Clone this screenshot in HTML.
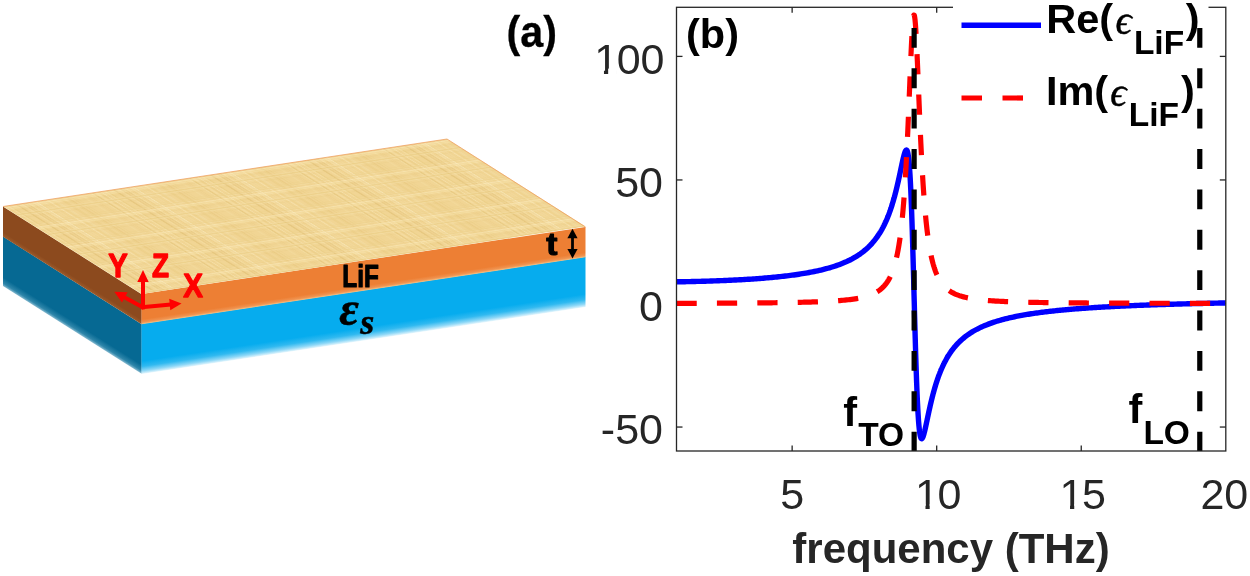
<!DOCTYPE html>
<html lang="en">
<head>
<meta charset="utf-8">
<title>LiF slab and permittivity</title>
<style>
html,body{margin:0;padding:0;background:#fff;}
body{width:1250px;height:576px;overflow:hidden;}
svg{display:block;}
text{font-family:"Liberation Sans",Arial,Helvetica,sans-serif;}
.b{font-weight:bold;}
.ser{font-family:"Liberation Serif","DejaVu Serif",serif;font-style:italic;}
</style>
</head>
<body>
<svg width="1250" height="576" viewBox="0 0 1250 576">
<defs>

<pattern id="papy" width="97" height="31" patternUnits="userSpaceOnUse">
<rect width="97" height="31" fill="#f1d594"/>
<line x1="43.9" y1="0" x2="43.9" y2="31" stroke="#fcefc6" stroke-width="1.5" opacity="0.41"/><line x1="49.3" y1="0" x2="49.3" y2="31" stroke="#e9ca80" stroke-width="1.5" opacity="0.53"/><line x1="46.1" y1="0" x2="46.1" y2="31" stroke="#e9ca80" stroke-width="1.5" opacity="0.28"/><line x1="29.4" y1="0" x2="29.4" y2="31" stroke="#fcefc6" stroke-width="0.7" opacity="0.56"/><line x1="61.5" y1="0" x2="61.5" y2="31" stroke="#ecd089" stroke-width="1.5" opacity="0.59"/><line x1="63.4" y1="0" x2="63.4" y2="31" stroke="#e9ca80" stroke-width="1.5" opacity="0.47"/><line x1="80.7" y1="0" x2="80.7" y2="31" stroke="#e4c47a" stroke-width="0.6" opacity="0.32"/><line x1="23.5" y1="0" x2="23.5" y2="31" stroke="#ecd089" stroke-width="0.6" opacity="0.36"/><line x1="57.3" y1="0" x2="57.3" y2="31" stroke="#e9ca80" stroke-width="0.8" opacity="0.47"/><line x1="48.5" y1="0" x2="48.5" y2="31" stroke="#ecd089" stroke-width="1.6" opacity="0.48"/><line x1="39.5" y1="0" x2="39.5" y2="31" stroke="#fcefc6" stroke-width="1.4" opacity="0.28"/><line x1="24.6" y1="0" x2="24.6" y2="31" stroke="#fbeab8" stroke-width="1.8" opacity="0.35"/><line x1="6.8" y1="0" x2="6.8" y2="31" stroke="#ecd089" stroke-width="1.8" opacity="0.29"/><line x1="28.2" y1="0" x2="28.2" y2="31" stroke="#e4c47a" stroke-width="0.6" opacity="0.55"/><line x1="0.1" y1="0" x2="0.1" y2="31" stroke="#e4c47a" stroke-width="0.9" opacity="0.41"/><line x1="95.1" y1="0" x2="95.1" y2="31" stroke="#e4c47a" stroke-width="1.2" opacity="0.45"/><line x1="19.3" y1="0" x2="19.3" y2="31" stroke="#dfbd72" stroke-width="1.6" opacity="0.28"/><line x1="32.3" y1="0" x2="32.3" y2="31" stroke="#fcefc6" stroke-width="2.1" opacity="0.57"/><line x1="13.1" y1="0" x2="13.1" y2="31" stroke="#e4c47a" stroke-width="1.7" opacity="0.27"/><line x1="77.3" y1="0" x2="77.3" y2="31" stroke="#fbeab8" stroke-width="0.8" opacity="0.32"/><line x1="49.4" y1="0" x2="49.4" y2="31" stroke="#fcefc6" stroke-width="2.2" opacity="0.30"/><line x1="62.4" y1="0" x2="62.4" y2="31" stroke="#ecd089" stroke-width="0.7" opacity="0.60"/><line x1="0.0" y1="0" x2="0.0" y2="31" stroke="#fcefc6" stroke-width="2.0" opacity="0.46"/><line x1="96.8" y1="0" x2="96.8" y2="31" stroke="#e9ca80" stroke-width="0.5" opacity="0.39"/><line x1="82.9" y1="0" x2="82.9" y2="31" stroke="#e4c47a" stroke-width="1.6" opacity="0.26"/><line x1="14.2" y1="0" x2="14.2" y2="31" stroke="#e4c47a" stroke-width="1.3" opacity="0.52"/><line x1="31.9" y1="0" x2="31.9" y2="31" stroke="#e4c47a" stroke-width="1.0" opacity="0.28"/><line x1="20.2" y1="0" x2="20.2" y2="31" stroke="#e4c47a" stroke-width="1.6" opacity="0.46"/><line x1="36.1" y1="0" x2="36.1" y2="31" stroke="#fbeab8" stroke-width="1.3" opacity="0.42"/><line x1="55.7" y1="0" x2="55.7" y2="31" stroke="#e9ca80" stroke-width="2.0" opacity="0.47"/><line x1="30.1" y1="0" x2="30.1" y2="31" stroke="#fbeab8" stroke-width="0.9" opacity="0.34"/><line x1="18.4" y1="0" x2="18.4" y2="31" stroke="#fbeab8" stroke-width="1.8" opacity="0.32"/><line x1="92.2" y1="0" x2="92.2" y2="31" stroke="#fbeab8" stroke-width="2.0" opacity="0.28"/><line x1="4.6" y1="0" x2="4.6" y2="31" stroke="#fbeab8" stroke-width="0.7" opacity="0.59"/><line x1="23.1" y1="0" x2="23.1" y2="31" stroke="#dfbd72" stroke-width="1.7" opacity="0.40"/><line x1="87.8" y1="0" x2="87.8" y2="31" stroke="#fbeab8" stroke-width="1.3" opacity="0.31"/><line x1="69.9" y1="0" x2="69.9" y2="31" stroke="#e9ca80" stroke-width="0.6" opacity="0.42"/><line x1="63.4" y1="0" x2="63.4" y2="31" stroke="#e4c47a" stroke-width="1.5" opacity="0.35"/><line x1="89.0" y1="0" x2="89.0" y2="31" stroke="#e4c47a" stroke-width="0.8" opacity="0.27"/><line x1="39.9" y1="0" x2="39.9" y2="31" stroke="#e4c47a" stroke-width="0.9" opacity="0.31"/><line x1="35.8" y1="0" x2="35.8" y2="31" stroke="#e9ca80" stroke-width="1.5" opacity="0.28"/><line x1="13.4" y1="0" x2="13.4" y2="31" stroke="#dfbd72" stroke-width="1.3" opacity="0.48"/><line x1="67.0" y1="0" x2="67.0" y2="31" stroke="#e9ca80" stroke-width="1.5" opacity="0.46"/><line x1="89.6" y1="0" x2="89.6" y2="31" stroke="#dfbd72" stroke-width="1.3" opacity="0.50"/><line x1="93.4" y1="0" x2="93.4" y2="31" stroke="#f9e4ab" stroke-width="0.5" opacity="0.28"/><line x1="6.5" y1="0" x2="6.5" y2="31" stroke="#e9ca80" stroke-width="1.0" opacity="0.60"/><line x1="0" y1="2.3" x2="97" y2="2.3" stroke="#f9e4ab" stroke-width="1.0" opacity="0.21"/><line x1="0" y1="29.0" x2="97" y2="29.0" stroke="#e9ca80" stroke-width="1.2" opacity="0.44"/><line x1="0" y1="28.4" x2="97" y2="28.4" stroke="#f9e4ab" stroke-width="0.8" opacity="0.34"/><line x1="0" y1="2.4" x2="97" y2="2.4" stroke="#fcefc6" stroke-width="1.3" opacity="0.21"/><line x1="0" y1="15.5" x2="97" y2="15.5" stroke="#f9e4ab" stroke-width="0.4" opacity="0.31"/><line x1="0" y1="18.1" x2="97" y2="18.1" stroke="#e4c47a" stroke-width="1.1" opacity="0.23"/><line x1="0" y1="3.6" x2="97" y2="3.6" stroke="#ecd089" stroke-width="0.7" opacity="0.42"/><line x1="0" y1="12.0" x2="97" y2="12.0" stroke="#fbeab8" stroke-width="1.2" opacity="0.34"/><line x1="0" y1="14.3" x2="97" y2="14.3" stroke="#fbeab8" stroke-width="1.0" opacity="0.43"/><line x1="0" y1="0.9" x2="97" y2="0.9" stroke="#ecd089" stroke-width="1.1" opacity="0.21"/><line x1="0" y1="29.7" x2="97" y2="29.7" stroke="#fcefc6" stroke-width="0.5" opacity="0.38"/><line x1="0" y1="28.5" x2="97" y2="28.5" stroke="#e4c47a" stroke-width="0.7" opacity="0.31"/><line x1="0" y1="4.4" x2="97" y2="4.4" stroke="#fbeab8" stroke-width="1.1" opacity="0.25"/><line x1="0" y1="28.1" x2="97" y2="28.1" stroke="#ecd089" stroke-width="1.1" opacity="0.35"/><line x1="0" y1="7.5" x2="97" y2="7.5" stroke="#dfbd72" stroke-width="0.8" opacity="0.26"/><line x1="0" y1="13.4" x2="97" y2="13.4" stroke="#e9ca80" stroke-width="1.3" opacity="0.46"/><line x1="0" y1="11.9" x2="97" y2="11.9" stroke="#dfbd72" stroke-width="1.0" opacity="0.26"/><line x1="0" y1="4.2" x2="97" y2="4.2" stroke="#fcefc6" stroke-width="0.8" opacity="0.21"/><line x1="0" y1="2.0" x2="97" y2="2.0" stroke="#fcefc6" stroke-width="1.5" opacity="0.25"/><line x1="0" y1="14.0" x2="97" y2="14.0" stroke="#e9ca80" stroke-width="0.7" opacity="0.45"/><line x1="0" y1="11.9" x2="97" y2="11.9" stroke="#f9e4ab" stroke-width="1.0" opacity="0.29"/><line x1="0" y1="26.0" x2="97" y2="26.0" stroke="#ecd089" stroke-width="1.5" opacity="0.30"/>
</pattern>
<linearGradient id="gOrF" x1="0" y1="0" x2="0" y2="1">
<stop offset="0" stop-color="#ed7f34"/><stop offset="0.84" stop-color="#ed7f34"/><stop offset="0.94" stop-color="#f09350"/><stop offset="1" stop-color="#f5c081"/>
</linearGradient>
<linearGradient id="gOrL" x1="0" y1="0" x2="0" y2="1">
<stop offset="0" stop-color="#8c4a1e"/><stop offset="0.85" stop-color="#8c4a1e"/><stop offset="1" stop-color="#9c5a2a"/>
</linearGradient>
<linearGradient id="gBlF" x1="0" y1="0" x2="0" y2="1">
<stop offset="0" stop-color="#06acee"/><stop offset="0.74" stop-color="#06acee"/><stop offset="0.85" stop-color="#30b9f0"/><stop offset="0.94" stop-color="#8fd8f7"/><stop offset="1" stop-color="#e8f7fd"/>
</linearGradient>
<linearGradient id="gBlL" x1="0" y1="0" x2="0" y2="1">
<stop offset="0" stop-color="#066993"/><stop offset="0.82" stop-color="#066993"/><stop offset="0.94" stop-color="#2f86aa"/><stop offset="1" stop-color="#86bad0"/>
</linearGradient>

<clipPath id="axclip"><rect x="676.5" y="7.3" width="549.3" height="443.7"/></clipPath>
</defs>
<rect width="1250" height="576" fill="#fff"/>

<!-- ================= panel (a): slab ================= -->
<g id="slab">

<!-- substrate (blue) -->
<g transform="matrix(1,0.6318,0,1,0,0)"><rect x="3" y="234.6" width="138.7" height="49.6" fill="url(#gBlL)"/></g>
<g transform="matrix(1,-0.1509,0,1,0,0)"><rect x="141.5" y="345.2" width="444" height="50.2" fill="url(#gBlF)"/></g>
<!-- LiF film (orange) -->
<g transform="matrix(1,0.6318,0,1,0,0)"><rect x="3" y="204.6" width="138.7" height="30.2" fill="url(#gOrL)"/></g>
<g transform="matrix(1,-0.1509,0,1,0,0)"><rect x="141.5" y="315.3" width="444" height="30.3" fill="url(#gOrF)"/></g>
<!-- top face with papyrus texture -->
<g transform="matrix(1,-0.152,1,0.6318,3,206.5)"><rect x="0" y="0" width="444" height="138.5" fill="url(#papy)"/></g>
<polyline points="3,206.5 447,139 585.5,227" fill="none" stroke="#ee9a5a" stroke-width="0.9" opacity="0.8"/>
<!-- coordinate axes -->
<g stroke="#ff0000" stroke-width="4" fill="#ff0000" stroke-linecap="butt">
<line x1="143" y1="309.3" x2="143" y2="280"/>
<polygon points="143,270 148.7,282 137.3,282" stroke="none"/>
<line x1="141.5" y1="307.3" x2="171" y2="304.5"/>
<polygon points="181.5,303.5 170.3,310.2 169.2,298.7" stroke="none"/>
<line x1="144" y1="308" x2="124" y2="297"/>
<polygon points="114.3,291.7 127.6,292.3 122,302.4" stroke="none"/>
</g>
<g class="b" fill="#ff0000" stroke="#ff0000" stroke-width="1.3" stroke-linejoin="round" font-size="34">
<text x="108.3" y="276.9" textLength="19.5" lengthAdjust="spacingAndGlyphs">Y</text>
<text x="152" y="276.9" textLength="17" lengthAdjust="spacingAndGlyphs">Z</text>
<text x="183.3" y="296.7" textLength="19.7" lengthAdjust="spacingAndGlyphs">X</text>
</g>
<g class="b" fill="#000" stroke="#000" stroke-width="1.1" stroke-linejoin="round">
<text x="342.3" y="286.5" font-size="31.5" textLength="36.6" lengthAdjust="spacingAndGlyphs">LiF</text>
<text x="546.3" y="254.8" font-size="32" textLength="11.2" lengthAdjust="spacingAndGlyphs">t</text>
<text x="506.6" y="46.6" font-size="44" textLength="50.4" lengthAdjust="spacingAndGlyphs" stroke-width="0.3">(a)</text>
<text x="339.2" y="325.4" font-size="47.5" style="font-family:'Liberation Serif','DejaVu Serif',serif;font-style:italic" stroke-width="0.5" textLength="19.6" lengthAdjust="spacingAndGlyphs">ε</text>
<text x="360.2" y="334.3" font-size="36" style="font-family:'Liberation Serif','DejaVu Serif',serif;font-style:italic" stroke-width="0.5">s</text>
</g>
<!-- thickness arrow -->
<g fill="#000" stroke="#000">
<line x1="572.5" y1="234" x2="572.5" y2="253" stroke-width="2.8"/>
<polygon points="572.5,228.8 577.6,238.3 567.4,238.3" stroke="none"/>
<polygon points="572.5,258.4 577.6,248.9 567.4,248.9" stroke="none"/>
</g>

</g>

<!-- ================= panel (b): chart ================= -->
<g id="chart">
<g stroke="#262626" stroke-width="1.3" fill="none">
<line x1="792.14" y1="451.0" x2="792.14" y2="445.5"/><line x1="792.14" y1="7.3" x2="792.14" y2="12.8"/><line x1="936.69" y1="451.0" x2="936.69" y2="445.5"/><line x1="936.69" y1="7.3" x2="936.69" y2="12.8"/><line x1="1081.25" y1="451.0" x2="1081.25" y2="445.5"/><line x1="1081.25" y1="7.3" x2="1081.25" y2="12.8"/><line x1="676.5" y1="427.05" x2="682.5" y2="427.05"/><line x1="1225.8" y1="427.05" x2="1219.8" y2="427.05"/><line x1="676.5" y1="303.50" x2="682.5" y2="303.50"/><line x1="1225.8" y1="303.50" x2="1219.8" y2="303.50"/><line x1="676.5" y1="179.95" x2="682.5" y2="179.95"/><line x1="1225.8" y1="179.95" x2="1219.8" y2="179.95"/><line x1="676.5" y1="56.40" x2="682.5" y2="56.40"/><line x1="1225.8" y1="56.40" x2="1219.8" y2="56.40"/>
</g>
<g clip-path="url(#axclip)" fill="none">
<path d="M676.50,281.81 L678.20,281.79 L679.90,281.76 L681.60,281.73 L683.30,281.70 L685.00,281.68 L686.70,281.64 L688.40,281.61 L690.10,281.58 L691.81,281.54 L693.51,281.50 L695.21,281.46 L696.91,281.42 L698.61,281.38 L700.31,281.34 L702.01,281.29 L703.71,281.24 L705.41,281.19 L707.11,281.14 L708.81,281.09 L710.51,281.04 L712.21,280.98 L713.91,280.92 L715.61,280.86 L717.31,280.80 L719.02,280.73 L720.72,280.67 L722.42,280.60 L724.12,280.53 L725.82,280.46 L727.52,280.38 L729.22,280.31 L730.92,280.23 L732.62,280.15 L734.32,280.06 L736.02,279.97 L737.72,279.89 L739.42,279.79 L741.12,279.70 L742.82,279.60 L744.52,279.50 L746.23,279.40 L747.93,279.30 L749.63,279.19 L751.33,279.08 L753.03,278.96 L754.73,278.84 L756.43,278.72 L758.13,278.60 L759.83,278.47 L761.53,278.34 L763.23,278.20 L764.93,278.06 L766.63,277.92 L768.33,277.77 L770.03,277.62 L771.73,277.46 L773.44,277.30 L775.14,277.14 L776.84,276.97 L778.54,276.79 L780.24,276.61 L781.94,276.42 L783.64,276.23 L785.34,276.03 L787.04,275.83 L788.74,275.62 L790.44,275.41 L792.14,275.18 L793.84,274.95 L795.54,274.71 L797.24,274.47 L798.94,274.22 L800.65,273.95 L802.35,273.68 L804.05,273.41 L805.75,273.12 L807.45,272.82 L809.15,272.51 L810.85,272.19 L812.55,271.86 L814.25,271.52 L815.95,271.16 L817.65,270.79 L819.35,270.41 L821.05,270.01 L822.75,269.60 L824.45,269.17 L826.15,268.73 L827.86,268.26 L829.56,267.78 L831.26,267.28 L832.96,266.75 L834.66,266.21 L836.36,265.64 L838.06,265.04 L839.76,264.41 L841.46,263.76 L843.16,263.08 L844.86,262.36 L846.56,261.60 L848.26,260.81 L849.96,259.98 L851.66,259.10 L853.36,258.17 L855.07,257.19 L856.77,256.16 L858.47,255.06 L860.17,253.90 L861.87,252.66 L863.57,251.35 L865.27,249.95 L866.97,248.46 L868.67,246.86 L870.37,245.15 L872.07,243.31 L873.77,241.32 L875.47,239.19 L877.17,236.87 L878.87,234.36 L879.02,234.14 L879.16,233.92 L879.31,233.69 L879.45,233.46 L879.60,233.23 L879.74,233.00 L879.89,232.77 L880.03,232.53 L880.18,232.29 L880.32,232.06 L880.47,231.82 L880.61,231.57 L880.76,231.33 L880.90,231.08 L881.05,230.84 L881.19,230.59 L881.34,230.34 L881.48,230.08 L881.63,229.83 L881.77,229.57 L881.92,229.31 L882.06,229.05 L882.21,228.79 L882.35,228.53 L882.49,228.26 L882.64,227.99 L882.78,227.72 L882.93,227.45 L883.07,227.17 L883.22,226.89 L883.36,226.61 L883.51,226.33 L883.65,226.05 L883.80,225.76 L883.94,225.47 L884.09,225.18 L884.23,224.89 L884.38,224.60 L884.52,224.30 L884.67,224.00 L884.81,223.70 L884.96,223.39 L885.10,223.09 L885.25,222.78 L885.39,222.46 L885.54,222.15 L885.68,221.83 L885.83,221.51 L885.97,221.19 L886.12,220.87 L886.26,220.54 L886.41,220.21 L886.55,219.87 L886.70,219.54 L886.84,219.20 L886.98,218.86 L887.13,218.52 L887.27,218.17 L887.42,217.82 L887.56,217.47 L887.71,217.11 L887.85,216.75 L888.00,216.39 L888.14,216.03 L888.29,215.66 L888.43,215.29 L888.58,214.91 L888.72,214.54 L888.87,214.16 L889.01,213.77 L889.16,213.38 L889.30,212.99 L889.45,212.60 L889.59,212.20 L889.74,211.80 L889.88,211.40 L890.03,210.99 L890.17,210.58 L890.32,210.17 L890.46,209.75 L890.61,209.33 L890.75,208.91 L890.90,208.48 L891.04,208.04 L891.19,207.61 L891.33,207.17 L891.47,206.73 L891.62,206.28 L891.76,205.83 L891.91,205.37 L892.05,204.91 L892.20,204.45 L892.34,203.98 L892.49,203.51 L892.63,203.04 L892.78,202.56 L892.92,202.08 L893.07,201.59 L893.21,201.10 L893.36,200.60 L893.50,200.10 L893.65,199.60 L893.79,199.09 L893.94,198.58 L894.08,198.06 L894.23,197.54 L894.37,197.01 L894.52,196.48 L894.66,195.95 L894.81,195.41 L894.95,194.87 L895.10,194.32 L895.24,193.77 L895.39,193.21 L895.53,192.65 L895.68,192.08 L895.82,191.51 L895.97,190.94 L896.11,190.36 L896.25,189.78 L896.40,189.19 L896.54,188.59 L896.69,188.00 L896.83,187.40 L896.98,186.79 L897.12,186.18 L897.27,185.57 L897.41,184.95 L897.56,184.33 L897.70,183.70 L897.85,183.07 L897.99,182.43 L898.14,181.80 L898.28,181.15 L898.43,180.51 L898.57,179.86 L898.72,179.20 L898.86,178.55 L899.01,177.89 L899.15,177.22 L899.30,176.56 L899.44,175.89 L899.59,175.22 L899.73,174.54 L899.88,173.86 L900.02,173.19 L900.17,172.51 L900.31,171.82 L900.46,171.14 L900.60,170.46 L900.74,169.77 L900.89,169.09 L901.03,168.40 L901.18,167.72 L901.32,167.04 L901.47,166.36 L901.61,165.68 L901.76,165.00 L901.90,164.32 L902.05,163.65 L902.19,162.99 L902.34,162.32 L902.48,161.67 L902.63,161.02 L902.77,160.37 L902.92,159.74 L903.06,159.11 L903.21,158.49 L903.35,157.89 L903.50,157.29 L903.64,156.71 L903.79,156.14 L903.93,155.59 L904.08,155.05 L904.22,154.53 L904.37,154.03 L904.51,153.55 L904.66,153.09 L904.80,152.66 L904.95,152.25 L905.09,151.87 L905.23,151.52 L905.38,151.20 L905.52,150.91 L905.67,150.66 L905.81,150.45 L905.96,150.28 L906.10,150.15 L906.25,150.07 L906.39,150.04 L906.54,150.05 L906.68,150.13 L906.83,150.26 L906.97,150.45 L907.12,150.71 L907.26,151.03 L907.41,151.43 L907.55,151.90 L907.70,152.45 L907.84,153.08 L907.99,153.80 L908.13,154.61 L908.28,155.52 L908.42,156.52 L908.57,157.63 L908.71,158.84 L908.86,160.16 L909.00,161.60 L909.15,163.16 L909.29,164.84 L909.44,166.65 L909.58,168.59 L909.73,170.66 L909.87,172.87 L910.01,175.22 L910.16,177.72 L910.30,180.36 L910.45,183.14 L910.59,186.08 L910.74,189.17 L910.88,192.41 L911.03,195.80 L911.17,199.35 L911.32,203.04 L911.46,206.88 L911.61,210.87 L911.75,215.01 L911.90,219.28 L912.04,223.70 L912.19,228.24 L912.33,232.91 L912.48,237.69 L912.62,242.59 L912.77,247.59 L912.91,252.69 L913.06,257.87 L913.20,263.13 L913.35,268.46 L913.49,273.84 L913.64,279.26 L913.78,284.72 L913.93,290.20 L914.07,295.68 L914.22,301.17 L914.36,306.64 L914.50,312.08 L914.65,317.48 L914.79,322.84 L914.94,328.13 L915.08,333.36 L915.23,338.50 L915.37,343.55 L915.52,348.50 L915.66,353.35 L915.81,358.08 L915.95,362.69 L916.10,367.17 L916.24,371.52 L916.39,375.72 L916.53,379.79 L916.68,383.71 L916.82,387.48 L916.97,391.11 L917.11,394.58 L917.26,397.90 L917.40,401.06 L917.55,404.08 L917.69,406.95 L917.84,409.66 L917.98,412.23 L918.13,414.66 L918.27,416.94 L918.42,419.08 L918.56,421.09 L918.71,422.97 L918.85,424.71 L919.00,426.34 L919.14,427.84 L919.28,429.22 L919.43,430.49 L919.57,431.65 L919.72,432.71 L919.86,433.66 L920.01,434.52 L920.15,435.29 L920.30,435.96 L920.44,436.56 L920.59,437.07 L920.73,437.50 L920.88,437.86 L921.02,438.16 L921.17,438.38 L921.31,438.54 L921.46,438.65 L921.60,438.69 L921.75,438.69 L921.89,438.63 L922.04,438.53 L922.18,438.38 L922.33,438.19 L922.47,437.96 L922.62,437.69 L922.76,437.39 L922.91,437.05 L923.05,436.69 L923.20,436.29 L923.34,435.87 L923.49,435.43 L923.63,434.96 L923.77,434.47 L923.92,433.96 L924.06,433.43 L924.21,432.88 L924.35,432.32 L924.50,431.75 L924.64,431.16 L924.79,430.56 L924.93,429.94 L925.08,429.32 L925.22,428.69 L925.37,428.05 L925.51,427.40 L925.66,426.75 L925.80,426.09 L925.95,425.42 L926.09,424.76 L926.24,424.08 L926.38,423.41 L926.53,422.73 L926.67,422.05 L926.82,421.36 L926.96,420.68 L927.11,420.00 L927.25,419.31 L927.40,418.63 L927.54,417.94 L927.69,417.26 L927.83,416.58 L927.98,415.90 L928.12,415.22 L928.26,414.54 L928.41,413.86 L928.55,413.19 L928.70,412.52 L928.84,411.85 L928.99,411.19 L929.13,410.53 L929.28,409.87 L929.42,409.21 L929.57,408.56 L929.71,407.91 L929.86,407.27 L930.00,406.63 L930.15,405.99 L930.29,405.36 L930.44,404.73 L930.58,404.10 L930.73,403.48 L930.87,402.86 L931.02,402.25 L931.16,401.64 L931.31,401.04 L931.45,400.44 L931.60,399.85 L931.74,399.26 L931.89,398.67 L932.03,398.09 L932.18,397.51 L932.32,396.94 L932.47,396.37 L932.61,395.81 L932.76,395.25 L932.90,394.69 L933.04,394.14 L933.19,393.60 L933.33,393.06 L933.48,392.52 L933.62,391.99 L933.77,391.46 L933.91,390.93 L934.06,390.41 L934.20,389.90 L934.35,389.39 L934.49,388.88 L934.64,388.38 L934.78,387.88 L934.93,387.39 L935.07,386.90 L935.22,386.41 L935.36,385.93 L935.51,385.45 L935.65,384.98 L935.80,384.51 L935.94,384.05 L936.09,383.59 L936.23,383.13 L936.38,382.68 L936.52,382.23 L936.67,381.78 L936.81,381.34 L936.96,380.90 L937.10,380.47 L937.25,380.04 L937.39,379.61 L937.53,379.19 L937.68,378.77 L937.82,378.35 L937.97,377.94 L938.11,377.53 L938.26,377.12 L938.40,376.72 L938.55,376.32 L938.69,375.93 L938.84,375.53 L938.98,375.15 L939.13,374.76 L939.27,374.38 L939.42,374.00 L939.56,373.62 L939.71,373.25 L939.85,372.88 L940.00,372.51 L940.14,372.15 L940.29,371.79 L940.43,371.43 L940.58,371.08 L940.72,370.73 L940.87,370.38 L941.01,370.03 L941.16,369.69 L941.30,369.35 L941.45,369.01 L941.59,368.68 L941.74,368.35 L941.88,368.02 L942.02,367.69 L942.17,367.37 L942.31,367.05 L942.46,366.73 L942.60,366.41 L942.75,366.10 L942.89,365.79 L943.04,365.48 L943.18,365.17 L943.33,364.87 L943.47,364.57 L943.62,364.27 L943.76,363.97 L943.91,363.68 L944.05,363.38 L944.20,363.09 L944.34,362.81 L944.49,362.52 L944.63,362.24 L944.78,361.96 L944.92,361.68 L945.07,361.40 L945.21,361.13 L945.36,360.86 L945.50,360.59 L945.65,360.32 L945.79,360.05 L945.94,359.79 L946.08,359.53 L946.23,359.27 L946.37,359.01 L946.52,358.75 L946.66,358.50 L946.80,358.25 L946.95,357.99 L947.09,357.75 L947.24,357.50 L947.38,357.25 L947.53,357.01 L947.67,356.77 L947.82,356.53 L947.96,356.29 L948.11,356.06 L948.25,355.82 L948.40,355.59 L948.54,355.36 L948.69,355.13 L948.83,354.90 L948.98,354.67 L949.12,354.45 L949.27,354.23 L949.41,354.01 L949.56,353.79 L949.70,353.57 L949.85,353.35 L949.99,353.14 L950.14,352.92 L950.28,352.71 L950.43,352.50 L950.57,352.29 L950.72,352.08 L950.86,351.88 L951.01,351.67 L951.15,351.47 L952.53,349.59 L953.91,347.84 L955.29,346.19 L956.67,344.63 L958.05,343.17 L959.43,341.79 L960.81,340.48 L962.19,339.24 L963.57,338.07 L964.95,336.95 L966.33,335.89 L967.71,334.89 L969.09,333.93 L970.47,333.01 L971.85,332.14 L973.23,331.31 L974.61,330.51 L975.99,329.75 L977.37,329.02 L978.75,328.31 L980.13,327.64 L981.51,327.00 L982.89,326.38 L984.27,325.78 L985.65,325.20 L987.03,324.65 L988.41,324.12 L989.79,323.60 L991.17,323.11 L992.55,322.63 L993.93,322.17 L995.31,321.72 L996.69,321.29 L998.08,320.87 L999.46,320.47 L1000.84,320.08 L1002.22,319.70 L1003.60,319.33 L1004.98,318.97 L1006.36,318.62 L1007.74,318.29 L1009.12,317.96 L1010.50,317.65 L1011.88,317.34 L1013.26,317.04 L1014.64,316.75 L1016.02,316.46 L1017.40,316.19 L1018.78,315.92 L1020.16,315.66 L1021.54,315.40 L1022.92,315.16 L1024.30,314.91 L1025.68,314.68 L1027.06,314.45 L1028.44,314.22 L1029.82,314.01 L1031.20,313.79 L1032.58,313.58 L1033.96,313.38 L1035.34,313.18 L1036.72,312.99 L1038.10,312.80 L1039.48,312.61 L1040.86,312.43 L1042.24,312.25 L1043.62,312.08 L1045.00,311.91 L1046.38,311.74 L1047.76,311.58 L1049.14,311.42 L1050.52,311.26 L1051.90,311.11 L1053.28,310.96 L1054.66,310.81 L1056.04,310.67 L1057.42,310.53 L1058.80,310.39 L1060.18,310.25 L1061.56,310.12 L1062.94,309.99 L1064.32,309.86 L1065.70,309.74 L1067.08,309.61 L1068.46,309.49 L1069.84,309.37 L1071.22,309.26 L1072.60,309.14 L1073.98,309.03 L1075.36,308.92 L1076.74,308.81 L1078.12,308.70 L1079.50,308.60 L1080.88,308.50 L1082.26,308.40 L1083.64,308.30 L1085.02,308.20 L1086.40,308.10 L1087.78,308.01 L1089.17,307.91 L1090.55,307.82 L1091.93,307.73 L1093.31,307.64 L1094.69,307.56 L1096.07,307.47 L1097.45,307.39 L1098.83,307.30 L1100.21,307.22 L1101.59,307.14 L1102.97,307.06 L1104.35,306.98 L1105.73,306.91 L1107.11,306.83 L1108.49,306.76 L1109.87,306.68 L1111.25,306.61 L1112.63,306.54 L1114.01,306.47 L1115.39,306.40 L1116.77,306.33 L1118.15,306.26 L1119.53,306.20 L1120.91,306.13 L1122.29,306.07 L1123.67,306.00 L1125.05,305.94 L1126.43,305.88 L1127.81,305.82 L1129.19,305.76 L1130.57,305.70 L1131.95,305.64 L1133.33,305.58 L1134.71,305.52 L1136.09,305.47 L1137.47,305.41 L1138.85,305.36 L1140.23,305.30 L1141.61,305.25 L1142.99,305.20 L1144.37,305.14 L1145.75,305.09 L1147.13,305.04 L1148.51,304.99 L1149.89,304.94 L1151.27,304.89 L1152.65,304.84 L1154.03,304.80 L1155.41,304.75 L1156.79,304.70 L1158.17,304.66 L1159.55,304.61 L1160.93,304.57 L1162.31,304.52 L1163.69,304.48 L1165.07,304.44 L1166.45,304.39 L1167.83,304.35 L1169.21,304.31 L1170.59,304.27 L1171.97,304.23 L1173.35,304.19 L1174.73,304.15 L1176.11,304.11 L1177.49,304.07 L1178.87,304.03 L1180.26,303.99 L1181.64,303.95 L1183.02,303.92 L1184.40,303.88 L1185.78,303.84 L1187.16,303.81 L1188.54,303.77 L1189.92,303.74 L1191.30,303.70 L1192.68,303.67 L1194.06,303.63 L1195.44,303.60 L1196.82,303.56 L1198.20,303.53 L1199.58,303.50 L1200.96,303.47 L1202.34,303.43 L1203.72,303.40 L1205.10,303.37 L1206.48,303.34 L1207.86,303.31 L1209.24,303.28 L1210.62,303.25 L1212.00,303.22 L1213.38,303.19 L1214.76,303.16 L1216.14,303.13 L1217.52,303.10 L1218.90,303.07 L1220.28,303.05 L1221.66,303.02 L1223.04,302.99 L1224.42,302.96 L1225.80,302.94" stroke="#0000ff" stroke-width="5.4" stroke-linejoin="round"/>
<path d="M676.50,303.40 L678.20,303.39 L679.90,303.38 L681.60,303.38 L683.30,303.37 L685.00,303.36 L686.70,303.36 L688.40,303.35 L690.10,303.34 L691.81,303.33 L693.51,303.33 L695.21,303.32 L696.91,303.31 L698.61,303.31 L700.31,303.30 L702.01,303.29 L703.71,303.28 L705.41,303.27 L707.11,303.27 L708.81,303.26 L710.51,303.25 L712.21,303.24 L713.91,303.23 L715.61,303.22 L717.31,303.22 L719.02,303.21 L720.72,303.20 L722.42,303.19 L724.12,303.18 L725.82,303.17 L727.52,303.16 L729.22,303.15 L730.92,303.14 L732.62,303.13 L734.32,303.12 L736.02,303.11 L737.72,303.09 L739.42,303.08 L741.12,303.07 L742.82,303.06 L744.52,303.05 L746.23,303.03 L747.93,303.02 L749.63,303.01 L751.33,302.99 L753.03,302.98 L754.73,302.96 L756.43,302.95 L758.13,302.93 L759.83,302.91 L761.53,302.90 L763.23,302.88 L764.93,302.86 L766.63,302.84 L768.33,302.83 L770.03,302.81 L771.73,302.79 L773.44,302.76 L775.14,302.74 L776.84,302.72 L778.54,302.70 L780.24,302.67 L781.94,302.65 L783.64,302.62 L785.34,302.59 L787.04,302.57 L788.74,302.54 L790.44,302.51 L792.14,302.48 L793.84,302.44 L795.54,302.41 L797.24,302.37 L798.94,302.34 L800.65,302.30 L802.35,302.26 L804.05,302.22 L805.75,302.17 L807.45,302.13 L809.15,302.08 L810.85,302.03 L812.55,301.97 L814.25,301.92 L815.95,301.86 L817.65,301.80 L819.35,301.73 L821.05,301.66 L822.75,301.59 L824.45,301.51 L826.15,301.43 L827.86,301.35 L829.56,301.26 L831.26,301.16 L832.96,301.06 L834.66,300.95 L836.36,300.83 L838.06,300.71 L839.76,300.58 L841.46,300.43 L843.16,300.28 L844.86,300.12 L846.56,299.95 L848.26,299.76 L849.96,299.55 L851.66,299.33 L853.36,299.10 L855.07,298.84 L856.77,298.56 L858.47,298.25 L860.17,297.92 L861.87,297.55 L863.57,297.14 L865.27,296.70 L866.97,296.20 L868.67,295.66 L870.37,295.05 L872.07,294.36 L873.77,293.60 L875.47,292.73 L877.17,291.75 L878.87,290.63 L879.02,290.53 L879.16,290.42 L879.31,290.32 L879.45,290.21 L879.60,290.11 L879.74,290.00 L879.89,289.89 L880.03,289.78 L880.18,289.66 L880.32,289.55 L880.47,289.44 L880.61,289.32 L880.76,289.20 L880.90,289.08 L881.05,288.96 L881.19,288.84 L881.34,288.71 L881.48,288.59 L881.63,288.46 L881.77,288.33 L881.92,288.20 L882.06,288.07 L882.21,287.93 L882.35,287.80 L882.49,287.66 L882.64,287.52 L882.78,287.38 L882.93,287.24 L883.07,287.10 L883.22,286.95 L883.36,286.80 L883.51,286.65 L883.65,286.50 L883.80,286.34 L883.94,286.19 L884.09,286.03 L884.23,285.87 L884.38,285.71 L884.52,285.54 L884.67,285.38 L884.81,285.21 L884.96,285.03 L885.10,284.86 L885.25,284.68 L885.39,284.51 L885.54,284.32 L885.68,284.14 L885.83,283.95 L885.97,283.76 L886.12,283.57 L886.26,283.38 L886.41,283.18 L886.55,282.98 L886.70,282.78 L886.84,282.57 L886.98,282.36 L887.13,282.15 L887.27,281.94 L887.42,281.72 L887.56,281.50 L887.71,281.27 L887.85,281.04 L888.00,280.81 L888.14,280.58 L888.29,280.34 L888.43,280.10 L888.58,279.85 L888.72,279.60 L888.87,279.35 L889.01,279.09 L889.16,278.83 L889.30,278.56 L889.45,278.29 L889.59,278.02 L889.74,277.74 L889.88,277.46 L890.03,277.17 L890.17,276.88 L890.32,276.58 L890.46,276.28 L890.61,275.98 L890.75,275.67 L890.90,275.35 L891.04,275.03 L891.19,274.70 L891.33,274.37 L891.47,274.03 L891.62,273.69 L891.76,273.34 L891.91,272.99 L892.05,272.62 L892.20,272.26 L892.34,271.88 L892.49,271.50 L892.63,271.12 L892.78,270.72 L892.92,270.32 L893.07,269.92 L893.21,269.50 L893.36,269.08 L893.50,268.65 L893.65,268.21 L893.79,267.77 L893.94,267.32 L894.08,266.86 L894.23,266.39 L894.37,265.91 L894.52,265.42 L894.66,264.93 L894.81,264.42 L894.95,263.91 L895.10,263.38 L895.24,262.85 L895.39,262.30 L895.53,261.75 L895.68,261.18 L895.82,260.61 L895.97,260.02 L896.11,259.42 L896.25,258.81 L896.40,258.19 L896.54,257.56 L896.69,256.91 L896.83,256.25 L896.98,255.58 L897.12,254.89 L897.27,254.19 L897.41,253.48 L897.56,252.75 L897.70,252.01 L897.85,251.25 L897.99,250.47 L898.14,249.68 L898.28,248.87 L898.43,248.05 L898.57,247.21 L898.72,246.35 L898.86,245.48 L899.01,244.58 L899.15,243.67 L899.30,242.73 L899.44,241.78 L899.59,240.80 L899.73,239.81 L899.88,238.79 L900.02,237.75 L900.17,236.69 L900.31,235.61 L900.46,234.50 L900.60,233.37 L900.74,232.21 L900.89,231.03 L901.03,229.82 L901.18,228.58 L901.32,227.31 L901.47,226.02 L901.61,224.70 L901.76,223.35 L901.90,221.97 L902.05,220.55 L902.19,219.11 L902.34,217.63 L902.48,216.12 L902.63,214.57 L902.77,212.99 L902.92,211.38 L903.06,209.72 L903.21,208.03 L903.35,206.30 L903.50,204.54 L903.64,202.73 L903.79,200.88 L903.93,198.99 L904.08,197.06 L904.22,195.08 L904.37,193.06 L904.51,190.99 L904.66,188.88 L904.80,186.73 L904.95,184.52 L905.09,182.27 L905.23,179.97 L905.38,177.62 L905.52,175.22 L905.67,172.77 L905.81,170.26 L905.96,167.71 L906.10,165.11 L906.25,162.45 L906.39,159.74 L906.54,156.98 L906.68,154.17 L906.83,151.30 L906.97,148.39 L907.12,145.42 L907.26,142.40 L907.41,139.33 L907.55,136.22 L907.70,133.05 L907.84,129.84 L907.99,126.59 L908.13,123.29 L908.28,119.95 L908.42,116.57 L908.57,113.16 L908.71,109.71 L908.86,106.24 L909.00,102.74 L909.15,99.21 L909.29,95.67 L909.44,92.12 L909.58,88.56 L909.73,85.00 L909.87,81.44 L910.01,77.89 L910.16,74.35 L910.30,70.84 L910.45,67.36 L910.59,63.92 L910.74,60.53 L910.88,57.19 L911.03,53.91 L911.17,50.71 L911.32,47.58 L911.46,44.55 L911.61,41.62 L911.75,38.79 L911.90,36.08 L912.04,33.50 L912.19,31.06 L912.33,28.75 L912.48,26.61 L912.62,24.62 L912.77,22.80 L912.91,21.16 L913.06,19.70 L913.20,18.43 L913.35,17.36 L913.49,16.48 L913.64,15.81 L913.78,15.34 L913.93,15.07 L914.07,15.02 L914.22,15.17 L914.36,15.54 L914.50,16.11 L914.65,16.88 L914.79,17.85 L914.94,19.02 L915.08,20.38 L915.23,21.93 L915.37,23.65 L915.52,25.55 L915.66,27.62 L915.81,29.84 L915.95,32.21 L916.10,34.72 L916.24,37.36 L916.39,40.13 L916.53,43.01 L916.68,45.99 L916.82,49.07 L916.97,52.23 L917.11,55.47 L917.26,58.78 L917.40,62.15 L917.55,65.57 L917.69,69.03 L917.84,72.52 L917.98,76.04 L918.13,79.58 L918.27,83.14 L918.42,86.70 L918.56,90.26 L918.71,93.82 L918.85,97.37 L919.00,100.90 L919.14,104.42 L919.28,107.90 L919.43,111.37 L919.57,114.80 L919.72,118.19 L919.86,121.55 L920.01,124.87 L920.15,128.15 L920.30,131.38 L920.44,134.57 L920.59,137.72 L920.73,140.81 L920.88,143.85 L921.02,146.85 L921.17,149.79 L921.31,152.68 L921.46,155.52 L921.60,158.31 L921.75,161.04 L921.89,163.73 L922.04,166.36 L922.18,168.94 L922.33,171.47 L922.47,173.94 L922.62,176.37 L922.76,178.75 L922.91,181.07 L923.05,183.35 L923.20,185.58 L923.34,187.76 L923.49,189.90 L923.63,191.99 L923.77,194.03 L923.92,196.03 L924.06,197.98 L924.21,199.90 L924.35,201.77 L924.50,203.60 L924.64,205.38 L924.79,207.13 L924.93,208.84 L925.08,210.52 L925.22,212.15 L925.37,213.75 L925.51,215.31 L925.66,216.84 L925.80,218.34 L925.95,219.80 L926.09,221.23 L926.24,222.63 L926.38,223.99 L926.53,225.33 L926.67,226.64 L926.82,227.92 L926.96,229.17 L927.11,230.39 L927.25,231.59 L927.40,232.76 L927.54,233.91 L927.69,235.03 L927.83,236.12 L927.98,237.20 L928.12,238.25 L928.26,239.28 L928.41,240.28 L928.55,241.27 L928.70,242.23 L928.84,243.18 L928.99,244.10 L929.13,245.01 L929.28,245.89 L929.42,246.76 L929.57,247.61 L929.71,248.44 L929.86,249.26 L930.00,250.06 L930.15,250.84 L930.29,251.60 L930.44,252.36 L930.58,253.09 L930.73,253.81 L930.87,254.52 L931.02,255.21 L931.16,255.89 L931.31,256.56 L931.45,257.21 L931.60,257.85 L931.74,258.48 L931.89,259.10 L932.03,259.70 L932.18,260.30 L932.32,260.88 L932.47,261.45 L932.61,262.01 L932.76,262.56 L932.90,263.10 L933.04,263.63 L933.19,264.15 L933.33,264.66 L933.48,265.16 L933.62,265.65 L933.77,266.13 L933.91,266.60 L934.06,267.07 L934.20,267.53 L934.35,267.98 L934.49,268.42 L934.64,268.85 L934.78,269.27 L934.93,269.69 L935.07,270.10 L935.22,270.51 L935.36,270.90 L935.51,271.29 L935.65,271.68 L935.80,272.05 L935.94,272.42 L936.09,272.79 L936.23,273.15 L936.38,273.50 L936.52,273.84 L936.67,274.19 L936.81,274.52 L936.96,274.85 L937.10,275.17 L937.25,275.49 L937.39,275.81 L937.53,276.11 L937.68,276.42 L937.82,276.72 L937.97,277.01 L938.11,277.30 L938.26,277.58 L938.40,277.87 L938.55,278.14 L938.69,278.41 L938.84,278.68 L938.98,278.94 L939.13,279.20 L939.27,279.46 L939.42,279.71 L939.56,279.96 L939.71,280.20 L939.85,280.44 L940.00,280.68 L940.14,280.91 L940.29,281.14 L940.43,281.37 L940.58,281.59 L940.72,281.81 L940.87,282.03 L941.01,282.24 L941.16,282.45 L941.30,282.66 L941.45,282.86 L941.59,283.07 L941.74,283.26 L941.88,283.46 L942.02,283.65 L942.17,283.84 L942.31,284.03 L942.46,284.22 L942.60,284.40 L942.75,284.58 L942.89,284.76 L943.04,284.93 L943.18,285.10 L943.33,285.27 L943.47,285.44 L943.62,285.61 L943.76,285.77 L943.91,285.93 L944.05,286.09 L944.20,286.25 L944.34,286.41 L944.49,286.56 L944.63,286.71 L944.78,286.86 L944.92,287.01 L945.07,287.15 L945.21,287.29 L945.36,287.44 L945.50,287.58 L945.65,287.71 L945.79,287.85 L945.94,287.99 L946.08,288.12 L946.23,288.25 L946.37,288.38 L946.52,288.51 L946.66,288.63 L946.80,288.76 L946.95,288.88 L947.09,289.00 L947.24,289.12 L947.38,289.24 L947.53,289.36 L947.67,289.48 L947.82,289.59 L947.96,289.70 L948.11,289.82 L948.25,289.93 L948.40,290.03 L948.54,290.14 L948.69,290.25 L948.83,290.35 L948.98,290.46 L949.12,290.56 L949.27,290.66 L949.41,290.76 L949.56,290.86 L949.70,290.96 L949.85,291.06 L949.99,291.16 L950.14,291.25 L950.28,291.34 L950.43,291.44 L950.57,291.53 L950.72,291.62 L950.86,291.71 L951.01,291.80 L951.15,291.89 L952.53,292.68 L953.91,293.39 L955.29,294.04 L956.67,294.62 L958.05,295.16 L959.43,295.65 L960.81,296.09 L962.19,296.50 L963.57,296.88 L964.95,297.23 L966.33,297.55 L967.71,297.85 L969.09,298.13 L970.47,298.38 L971.85,298.62 L973.23,298.85 L974.61,299.06 L975.99,299.25 L977.37,299.43 L978.75,299.60 L980.13,299.76 L981.51,299.92 L982.89,300.06 L984.27,300.19 L985.65,300.32 L987.03,300.44 L988.41,300.55 L989.79,300.66 L991.17,300.76 L992.55,300.85 L993.93,300.95 L995.31,301.03 L996.69,301.11 L998.08,301.19 L999.46,301.27 L1000.84,301.34 L1002.22,301.41 L1003.60,301.47 L1004.98,301.53 L1006.36,301.59 L1007.74,301.65 L1009.12,301.70 L1010.50,301.75 L1011.88,301.80 L1013.26,301.85 L1014.64,301.90 L1016.02,301.94 L1017.40,301.98 L1018.78,302.02 L1020.16,302.06 L1021.54,302.10 L1022.92,302.14 L1024.30,302.17 L1025.68,302.20 L1027.06,302.24 L1028.44,302.27 L1029.82,302.30 L1031.20,302.32 L1032.58,302.35 L1033.96,302.38 L1035.34,302.41 L1036.72,302.43 L1038.10,302.45 L1039.48,302.48 L1040.86,302.50 L1042.24,302.52 L1043.62,302.54 L1045.00,302.56 L1046.38,302.58 L1047.76,302.60 L1049.14,302.62 L1050.52,302.64 L1051.90,302.66 L1053.28,302.68 L1054.66,302.69 L1056.04,302.71 L1057.42,302.72 L1058.80,302.74 L1060.18,302.75 L1061.56,302.77 L1062.94,302.78 L1064.32,302.80 L1065.70,302.81 L1067.08,302.82 L1068.46,302.83 L1069.84,302.85 L1071.22,302.86 L1072.60,302.87 L1073.98,302.88 L1075.36,302.89 L1076.74,302.90 L1078.12,302.91 L1079.50,302.92 L1080.88,302.93 L1082.26,302.94 L1083.64,302.95 L1085.02,302.96 L1086.40,302.97 L1087.78,302.98 L1089.17,302.99 L1090.55,303.00 L1091.93,303.00 L1093.31,303.01 L1094.69,303.02 L1096.07,303.03 L1097.45,303.04 L1098.83,303.04 L1100.21,303.05 L1101.59,303.06 L1102.97,303.06 L1104.35,303.07 L1105.73,303.08 L1107.11,303.08 L1108.49,303.09 L1109.87,303.10 L1111.25,303.10 L1112.63,303.11 L1114.01,303.11 L1115.39,303.12 L1116.77,303.12 L1118.15,303.13 L1119.53,303.13 L1120.91,303.14 L1122.29,303.14 L1123.67,303.15 L1125.05,303.15 L1126.43,303.16 L1127.81,303.16 L1129.19,303.17 L1130.57,303.17 L1131.95,303.18 L1133.33,303.18 L1134.71,303.19 L1136.09,303.19 L1137.47,303.19 L1138.85,303.20 L1140.23,303.20 L1141.61,303.21 L1142.99,303.21 L1144.37,303.21 L1145.75,303.22 L1147.13,303.22 L1148.51,303.22 L1149.89,303.23 L1151.27,303.23 L1152.65,303.23 L1154.03,303.24 L1155.41,303.24 L1156.79,303.24 L1158.17,303.25 L1159.55,303.25 L1160.93,303.25 L1162.31,303.26 L1163.69,303.26 L1165.07,303.26 L1166.45,303.26 L1167.83,303.27 L1169.21,303.27 L1170.59,303.27 L1171.97,303.28 L1173.35,303.28 L1174.73,303.28 L1176.11,303.28 L1177.49,303.29 L1178.87,303.29 L1180.26,303.29 L1181.64,303.29 L1183.02,303.29 L1184.40,303.30 L1185.78,303.30 L1187.16,303.30 L1188.54,303.30 L1189.92,303.31 L1191.30,303.31 L1192.68,303.31 L1194.06,303.31 L1195.44,303.31 L1196.82,303.32 L1198.20,303.32 L1199.58,303.32 L1200.96,303.32 L1202.34,303.32 L1203.72,303.33 L1205.10,303.33 L1206.48,303.33 L1207.86,303.33 L1209.24,303.33 L1210.62,303.33 L1212.00,303.34 L1213.38,303.34 L1214.76,303.34 L1216.14,303.34 L1217.52,303.34 L1218.90,303.34 L1220.28,303.35 L1221.66,303.35 L1223.04,303.35 L1224.42,303.35 L1225.80,303.35" stroke="#ff0000" stroke-width="5.2" stroke-dasharray="20.25 20.16" stroke-linejoin="round"/>
<line x1="914.14" y1="28" x2="914.14" y2="451.0" stroke="#000" stroke-width="5.2" stroke-dasharray="19.8 20.57"/>
<line x1="1199.78" y1="28" x2="1199.78" y2="451.0" stroke="#000" stroke-width="5.2" stroke-dasharray="19.8 20.57"/>
</g>
<rect x="676.5" y="7.3" width="549.3" height="443.7" stroke="#262626" stroke-width="1.3" fill="none"/>
<!-- legend -->
<rect x="953" y="0" width="255.5" height="12" fill="#fff"/>
<line x1="961.5" y1="25.2" x2="1041" y2="25.2" stroke="#0000ff" stroke-width="5.4"/>
<line x1="961.5" y1="98" x2="1041" y2="98" stroke="#ff0000" stroke-width="5.2" stroke-dasharray="20.5 20.5"/>
<g class="b" fill="#000" font-size="41.5">
<text x="1046.3" y="32.9">Re(</text>
<text class="ser" x="1115.6" y="33.9" font-weight="normal" font-size="40" stroke="#000" stroke-width="0.5">ϵ</text>
<text x="1133.9" y="53.7" font-size="33.5">LiF</text>
<text x="1185.8" y="32.9">)</text>
<text x="1045.9" y="105.1">Im(</text>
<text class="ser" x="1110.2" y="105.9" font-weight="normal" font-size="40" stroke="#000" stroke-width="0.5">ϵ</text>
<text x="1128.7" y="125.5" font-size="33.5">LiF</text>
<text x="1181" y="105.1">)</text>
<text x="686" y="47.6" font-size="41.5">(b)</text>
<text x="843.2" y="425.5">f</text>
<text x="858.2" y="446.4" font-size="33.5">TO</text>
<text x="1128.6" y="422.8">f</text>
<text x="1143.4" y="443.6" font-size="33.5">LO</text>
</g>
<g fill="#262626" font-size="43">
<text x="792.14" y="509.2" text-anchor="middle">5</text><text x="936.69" y="509.2" text-anchor="middle" dx="1.5 -1.5">10</text><text x="1081.25" y="509.2" text-anchor="middle" dx="1.5 -1.5">15</text><text x="1224.30" y="509.2" text-anchor="middle">20</text>
<text x="663" y="444.25" text-anchor="end">-50</text><text x="663" y="320.70" text-anchor="end">0</text><text x="663" y="197.15" text-anchor="end">50</text><text x="663" y="73.60" text-anchor="end" dx="1.5 -1.5">100</text>
<rect x="916.08" y="504.20" width="9.40" height="6.5" fill="#fff"/><rect x="929.68" y="504.20" width="8.60" height="6.5" fill="#fff"/><rect x="1060.63" y="504.20" width="9.40" height="6.5" fill="#fff"/><rect x="1074.23" y="504.20" width="8.60" height="6.5" fill="#fff"/><rect x="594.56" y="68.60" width="9.40" height="6.5" fill="#fff"/><rect x="608.16" y="68.60" width="8.60" height="6.5" fill="#fff"/>
<text class="b" x="951" y="563.3" text-anchor="middle" font-size="42">frequency (THz)</text>
</g>
</g>
</svg>
</body>
</html>
